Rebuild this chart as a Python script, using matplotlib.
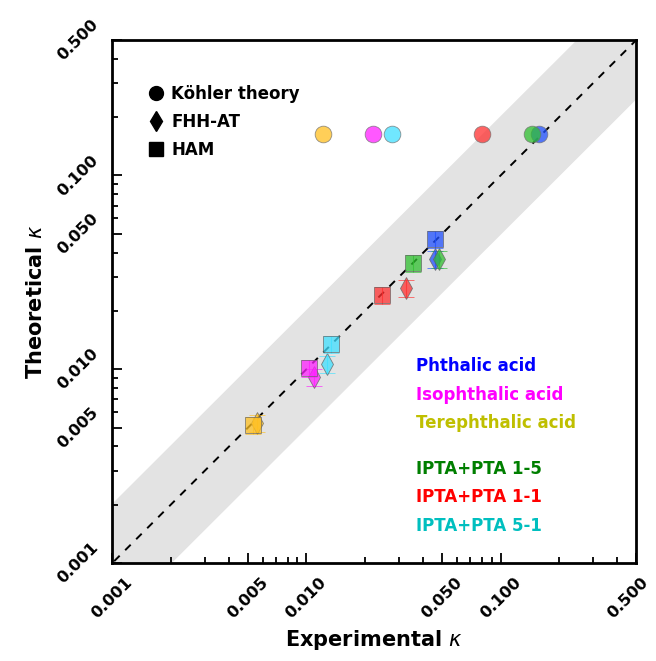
import matplotlib.pyplot as plt
import matplotlib.ticker as mticker
import matplotlib.transforms as mtransforms
import numpy as np

# ---- data (experimental kappa, theoretical kappa) ----
species = ["Phthalic acid", "Isophthalic acid", "Terephthalic acid",
           "IPTA+PTA 1-5", "IPTA+PTA 1-1", "IPTA+PTA 5-1"]
marker_colors = ["#2050ff", "#ff20ff", "#ffbf20", "#30c030", "#ff3030", "#40e0ff"]
text_colors = ["#0000ff", "#ff00ff", "#bfbf00", "#007f00", "#ff0000", "#00bfbf"]

kohler_exp = [0.157, 0.0221, 0.0122, 0.1445, 0.0807, 0.0277]
kohler_theo = [0.163, 0.163, 0.163, 0.163, 0.163, 0.163]

fhh_exp = [0.0457, 0.0110, 0.0056, 0.0480, 0.0324, 0.0128]
fhh_theo = [0.0369, 0.0091, 0.0053, 0.0372, 0.0262, 0.0107]

ham_exp = [0.0462, 0.01035, 0.00533, 0.0356, 0.0244, 0.01345]
ham_theo = [0.0468, 0.0101, 0.00514, 0.0352, 0.0241, 0.01345]

ticks = [0.001, 0.005, 0.010, 0.050, 0.100, 0.500]

fig = plt.figure(figsize=(6.56, 6.61), dpi=100)
ax = fig.add_axes([0.171, 0.148, 0.799, 0.7915])

# ---- 1:1 line and factor-of-2 band ----
xx = np.logspace(-3.5, 0, 50)
ax.fill_between(xx, xx / 2, xx * 2, color="#e3e3e3", zorder=0)
ax.plot(xx, xx, "k--", linewidth=1.4, dashes=(4, 4), zorder=1)

# ---- markers ----
for i, c in enumerate(marker_colors):
    ax.errorbar(fhh_exp[i], fhh_theo[i], yerr=fhh_theo[i] * 0.1, fmt="d", ms=11,
                color=c, mfc=c, mec="#606060", mew=0.6, alpha=0.75,
                elinewidth=0.8, capsize=6, zorder=3)
    ax.errorbar(ham_exp[i], ham_theo[i], yerr=ham_theo[i] * 0.1, fmt="s", ms=12,
                color=c, mfc=c, mec="#606060", mew=0.6, alpha=0.75,
                elinewidth=0.8, capsize=6, zorder=4)
    ax.plot(kohler_exp[i], kohler_theo[i], "o", ms=12, color=c, mec="#707070",
            mew=0.6, alpha=0.75, zorder=5)

# ---- marker-type legend ----
leg_items = [("o", "Köhler theory"), ("d", "FHH-AT"), ("s", "HAM")]
for m, lab in leg_items:
    ax.plot([], [], m, color="black", ms=10, label=lab)
ax.legend(loc="upper left", bbox_to_anchor=(0.04, 0.943), frameon=False,
          handletextpad=0.4, labelspacing=0.6, handlelength=1.0,
          prop={"weight": "bold", "size": 12})

# ---- species labels ----
ys = [0.377, 0.322, 0.267, 0.180, 0.126, 0.072]
for name, col, yy in zip(species, text_colors, ys):
    ax.text(0.58, yy, name, color=col, fontsize=12, fontweight="bold",
            transform=ax.transAxes, va="center")

ax.set_xscale("log")
ax.set_yscale("log")
ax.set_xlim(0.001, 0.5)
ax.set_ylim(0.001, 0.5)
ax.set_xticks(ticks)
ax.set_yticks(ticks)
fmt = mticker.FuncFormatter(lambda v, p: f"{v:.3f}")
ax.xaxis.set_major_formatter(fmt)
ax.yaxis.set_major_formatter(fmt)
ax.xaxis.set_minor_formatter(mticker.NullFormatter())
ax.yaxis.set_minor_formatter(mticker.NullFormatter())
ax.tick_params(which="both", direction="in", width=1.3)
ax.tick_params(which="major", length=7, pad=8)
ax.tick_params(which="minor", length=4)
for lab in ax.get_xticklabels() + ax.get_yticklabels():
    lab.set_rotation(45)
    lab.set_fontweight("bold")
    lab.set_fontsize(11.5)
for lab in ax.get_xticklabels():
    lab.set_ha("center")
    lab.set_va("top")
for lab in ax.get_yticklabels():
    lab.set_ha("right")
    lab.set_va("center")
# keep the last x label inside the figure
last = ax.get_xticklabels()[-1]
last.set_transform(last.get_transform() +
                   mtransforms.ScaledTranslation(-6 / 72, 0, fig.dpi_scale_trans))
for s in ax.spines.values():
    s.set_linewidth(2)

ax.set_xlabel(r"Experimental $\kappa$", fontsize=15, fontweight="bold", labelpad=5)
ax.set_ylabel(r"Theoretical $\kappa$", fontsize=15, fontweight="bold", labelpad=6)

fig.savefig("out.png", dpi=100)
